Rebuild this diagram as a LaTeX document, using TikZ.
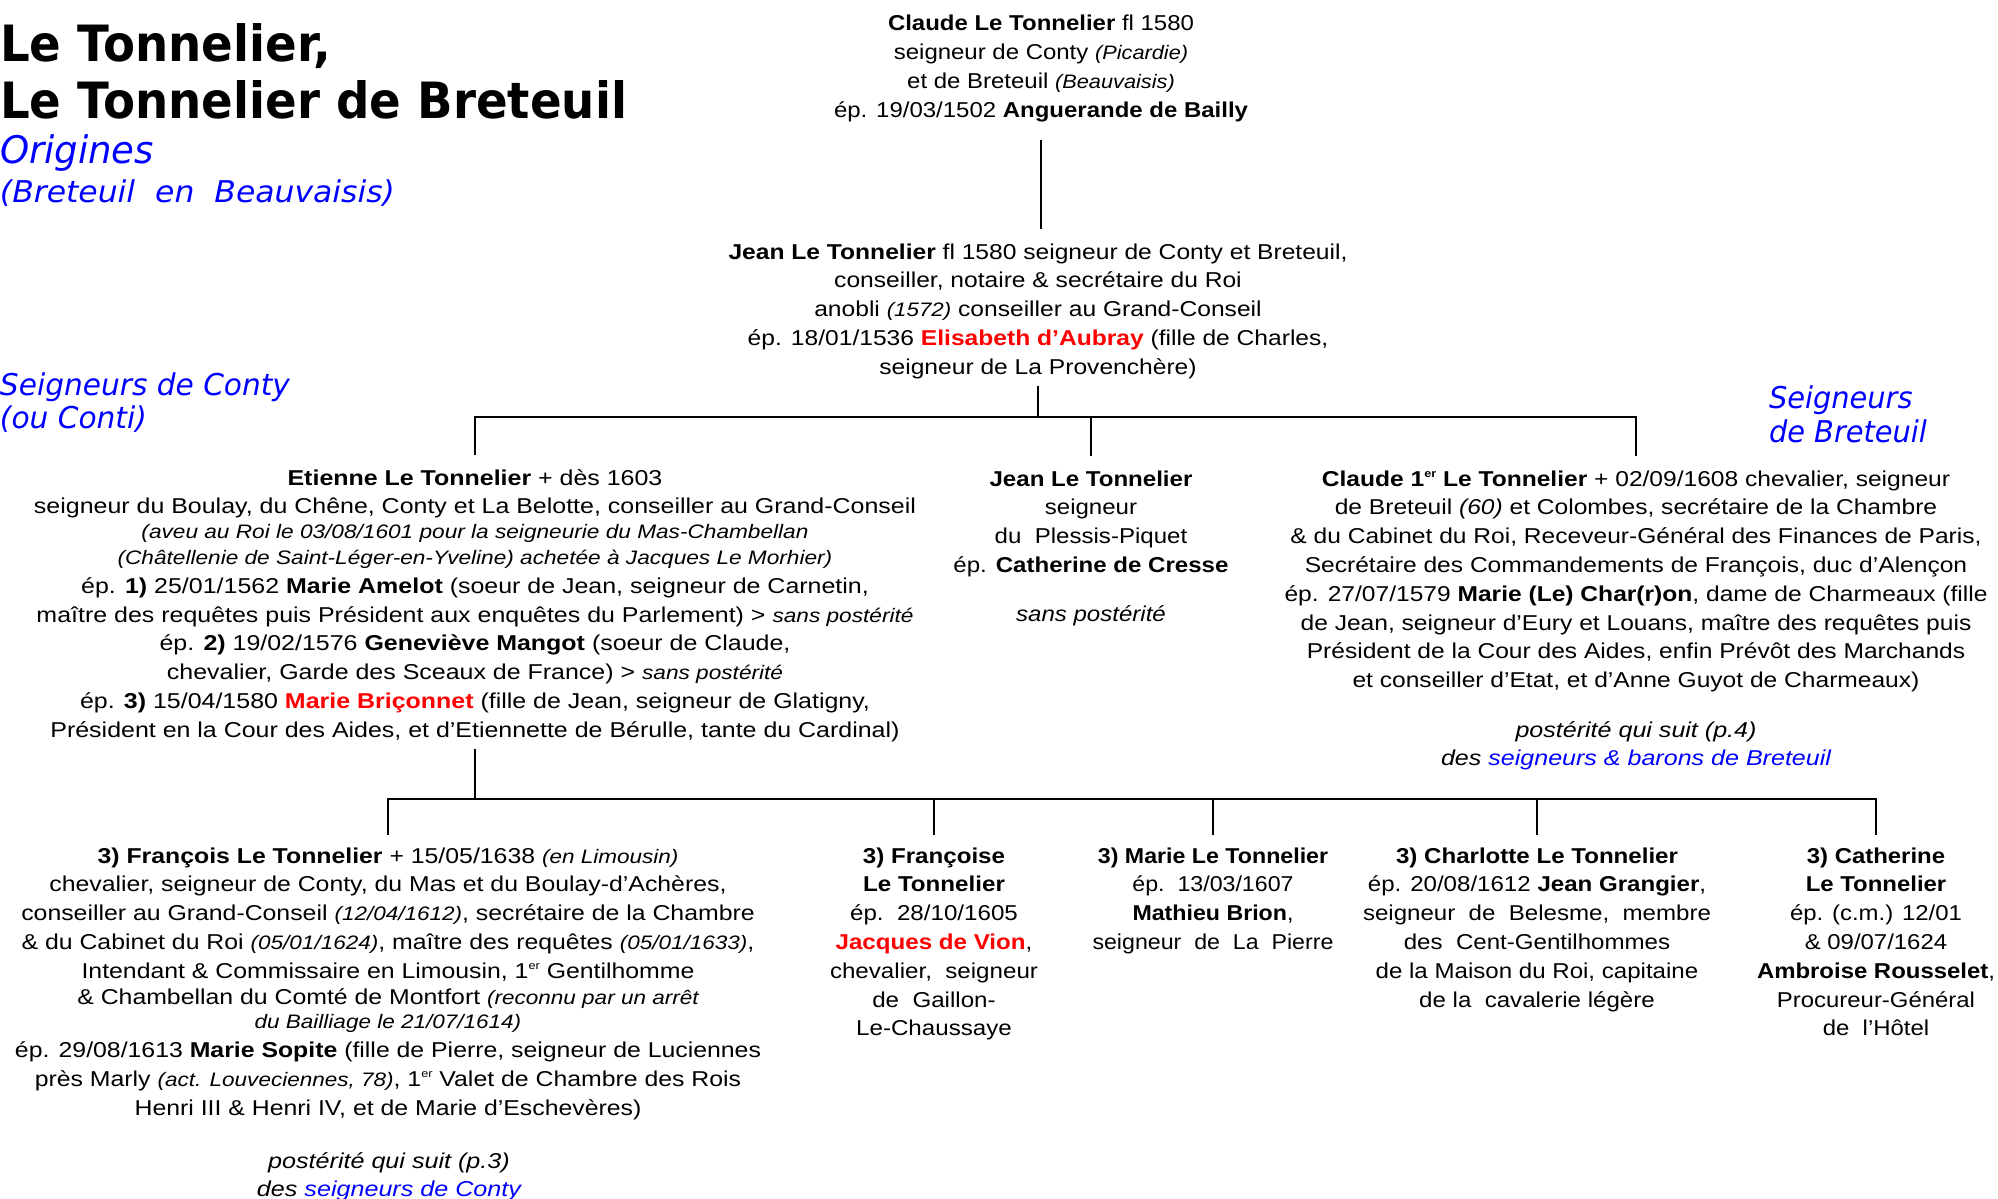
\documentclass[tikz,border=0pt]{standalone}
\usepackage{fontspec}
\setmainfont{Liberation Sans}
\newfontfamily\vfont{DejaVu Sans}
\usepackage{graphicx}
\definecolor{tred}{RGB}{255,0,0}
\definecolor{tblue}{RGB}{0,0,255}
\newcommand{\blk}[2]{\resizebox{#1pt}{\height}{\begin{tabular}[t]{@{}c@{}}#2\end{tabular}}}
\newcommand{\blkl}[2]{\resizebox{#1pt}{\height}{\begin{tabular}[t]{@{}l@{}}#2\end{tabular}}}
\newcommand{\sit}[1]{{\fontsize{19.5}{22}\selectfont\itshape #1}}
\newcommand{\ers}{\raisebox{0.75ex}{\fontsize{11}{11}\selectfont er}}
\newcommand{\rd}[1]{\textcolor{tred}{\textbf{#1}}}
\newcommand{\bl}[1]{\textcolor{tblue}{#1}}
\newcommand{\bodyfont}{\fontsize{21.5}{28.8}\selectfont}
\tikzset{
  txt/.style={inner sep=0pt, outer sep=0pt, anchor=base, font=\bodyfont},
  lbl/.style={inner sep=0pt, outer sep=0pt, anchor=base west, text=tblue},
  conn/.style={line width=2.6pt}
}
\begin{document}
\begin{tikzpicture}[x=1pt,y=1pt]
\useasboundingbox (0,0) rectangle (1998,-1199);
% titles
\node[inner sep=0pt, anchor=base west, font={\vfont\bfseries\fontsize{50}{56}\selectfont}] (title) at (0,-62) {\blkl{627}{Le Tonnelier,\\Le Tonnelier de Breteuil}};
\node[lbl, font={\vfont\itshape\fontsize{38}{40}\selectfont}] (orig) at (0,-163) {\resizebox{154pt}{\height}{Origines}};
\node[lbl, font={\vfont\itshape\fontsize{30}{34}\selectfont}] (origsub) at (0,-202) {\resizebox{395pt}{\height}{(Breteuil\ \ en\ \ Beauvaisis)}};
\node[lbl, font={\vfont\itshape\fontsize{30}{33.5}\selectfont}] (conty) at (0,-395) {\blkl{290}{Seigneurs de Conty\\(ou Conti)}};
\node[lbl, font={\vfont\itshape\fontsize{30}{34}\selectfont}] (bret) at (1769,-408) {\blkl{158}{Seigneurs\\de Breteuil}};
% generation 1
\node[txt] (claude) at (1041,-31) {\blk{414}{\textbf{Claude Le Tonnelier} fl 1580\\
seigneur de Conty \sit{(Picardie)}\\
et de Breteuil \sit{(Beauvaisis)}\\
ép. 19/03/1502 \textbf{Anguerande de Bailly}}};
% generation 2
\node[txt] (jean) at (1038,-259) {\blk{619}{\textbf{Jean Le Tonnelier} fl 1580 seigneur de Conty et Breteuil,\\
conseiller, notaire \& secrétaire du Roi\\
anobli \sit{(1572)} conseiller au Grand-Conseil\\
ép. 18/01/1536 \rd{Elisabeth d’Aubray} (fille de Charles,\\
seigneur de La Provenchère)}};
% generation 3
\node[txt] (etienne) at (475,-485) {\blk{882}{\textbf{Etienne Le Tonnelier} + dès 1603\\
seigneur du Boulay, du Chêne, Conty et La Belotte, conseiller au Grand-Conseil\\[-4pt]
\sit{(aveu au Roi le 03/08/1601 pour la seigneurie du Mas-Chambellan}\\[-3pt]
\sit{(Châtellenie de Saint-Léger-en-Yveline) achetée à Jacques Le Morhier)}\\
ép. \textbf{1)} 25/01/1562 \textbf{Marie Amelot} (soeur de Jean, seigneur de Carnetin,\\
maître des requêtes puis Président aux enquêtes du Parlement) > \sit{sans postérité}\\
ép. \textbf{2)} 19/02/1576 \textbf{Geneviève Mangot} (soeur de Claude,\\
chevalier, Garde des Sceaux de France) > \sit{sans postérité}\\
ép. \textbf{3)} 15/04/1580 \rd{Marie Briçonnet} (fille de Jean, seigneur de Glatigny,\\
Président en la Cour des Aides, et d’Etiennette de Bérulle, tante du Cardinal)}};
\node[txt] (jeanm) at (1091,-486) {\blk{275}{\textbf{Jean Le Tonnelier}\\
seigneur\\
du\ \ Plessis-Piquet\\
ép. \textbf{Catherine de Cresse}\\[20pt]
\textit{sans postérité}}};
\node[txt] (claude1) at (1636,-486) {\blk{703}{\textbf{Claude 1\ers{} Le Tonnelier} + 02/09/1608 chevalier, seigneur\\
de Breteuil \textit{(60)} et Colombes, secrétaire de la Chambre\\
\& du Cabinet du Roi, Receveur-Général des Finances de Paris,\\
Secrétaire des Commandements de François, duc d’Alençon\\
ép. 27/07/1579 \textbf{Marie (Le) Char(r)on}, dame de Charmeaux (fille\\
de Jean, seigneur d’Eury et Louans, maître des requêtes puis\\
Président de la Cour des Aides, enfin Prévôt des Marchands\\
et conseiller d’Etat, et d’Anne Guyot de Charmeaux)}};
\node[txt] (post1) at (1636,-737) {\blk{390}{\textit{postérité qui suit (p.4)}\\
\textit{des \bl{seigneurs \& barons de Breteuil}}}};
% generation 4
\node[txt] (francois) at (388,-863) {\blk{746}{\textbf{3) François Le Tonnelier} + 15/05/1638 \sit{(en Limousin)}\\
chevalier, seigneur de Conty, du Mas et du Boulay-d’Achères,\\
conseiller au Grand-Conseil \sit{(12/04/1612)}, secrétaire de la Chambre\\
\& du Cabinet du Roi \sit{(05/01/1624)}, maître des requêtes \sit{(05/01/1633)},\\
Intendant \& Commissaire en Limousin, 1\ers{} Gentilhomme\\[-3pt]
\& Chambellan du Comté de Montfort \sit{(reconnu par un arrêt}\\[-4pt]
\sit{du Bailliage le 21/07/1614)}\\
ép. 29/08/1613 \textbf{Marie Sopite} (fille de Pierre, seigneur de Luciennes\\
près Marly \sit{(act. Louveciennes, 78)}, 1\ers{} Valet de Chambre des Rois\\
Henri III \& Henri IV, et de Marie d’Eschevères)}};
\node[txt] (post2) at (389,-1168) {\blk{264}{\textit{postérité qui suit (p.3)}\\
\textit{des \bl{seigneurs de Conty}}}};
\node[txt] (francoise) at (934,-863) {\blk{208}{\textbf{3) Françoise}\\
\textbf{Le Tonnelier}\\
ép.\ \ 28/10/1605\\
\rd{Jacques de Vion},\\
chevalier,\ \ seigneur\\
de\ \ Gaillon-\\
Le-Chaussaye}};
\node[txt] (marie) at (1213,-863) {\blk{241}{\textbf{3) Marie Le Tonnelier}\\
ép.\ \ 13/03/1607\\
\textbf{Mathieu Brion},\\
seigneur\ \ de\ \ La\ \ Pierre}};
\node[txt] (charlotte) at (1537,-863) {\blk{348}{\textbf{3) Charlotte Le Tonnelier}\\
ép. 20/08/1612 \textbf{Jean Grangier},\\
seigneur\ \ de\ \ Belesme,\ \ membre\\
des\ \ Cent-Gentilhommes\\
de la Maison du Roi, capitaine\\
de la\ \ cavalerie légère}};
\node[txt] (catherine) at (1876,-863) {\blk{238}{\textbf{3) Catherine}\\
\textbf{Le Tonnelier}\\
ép. (c.m.) 12/01\\
\& 09/07/1624\\
\textbf{Ambroise Rousselet},\\
Procureur-Général\\
de\ \ l’Hôtel}};
% connectors
\coordinate (b1) at (0,-417);
\coordinate (b2) at (0,-799);
\draw[conn, shorten <=14pt, shorten >=10pt] (claude.south) -- (claude.south |- jean.north);
\draw[conn, shorten <=3pt] (jean.south) -- (jean.south |- b1);
\draw[conn, shorten <=10pt, shorten >=10pt] (etienne.north) -- (etienne.north |- b1) -- (claude1.north |- b1) -- (claude1.north);
\draw[conn, shorten >=10pt] (jeanm.north |- b1) -- (jeanm.north);
\draw[conn, shorten <=3pt] (etienne.south) -- (etienne.south |- b2);
\draw[conn, shorten <=8pt, shorten >=8pt] (francois.north) -- (francois.north |- b2) -- (catherine.north |- b2) -- (catherine.north);
\foreach \c in {francoise, marie, charlotte}
  \draw[conn, shorten >=8pt] (\c.north |- b2) -- (\c.north);
\end{tikzpicture}
\end{document}
